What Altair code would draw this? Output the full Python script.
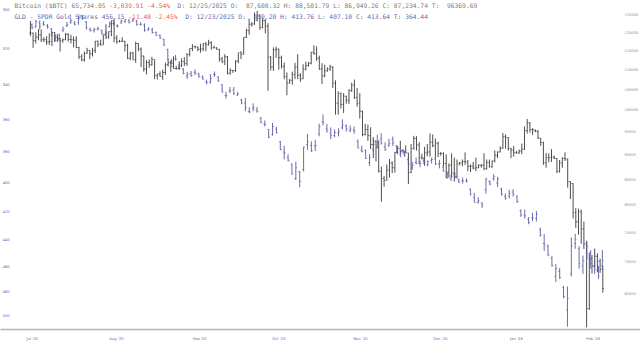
import altair as alt
import pandas as pd

# ---------------- Bitcoin daily bars (open, high, low, close) ----------------
btc_jul = [  # Jul 14 - Jul 31 2025
    (119800,123200,118900,119800),(119800,119900,115700,117700),(117700,120000,116900,118700),
    (118700,120900,117800,119300),(119300,120800,117300,117900),(117900,118600,117300,117900),
    (117900,118900,116500,117300),(117300,119700,116500,117400),(117400,120200,116200,119900),
    (119900,120100,117300,118600),(118600,119500,117400,118300),(118300,118500,114700,117600),
    (117600,118300,117100,117900),(117900,119800,117800,119400),(119400,119800,117400,118000),
    (118000,119300,116900,117900),(117900,118800,115800,117800),(117800,118900,115600,115800),
]
btc_aug = [
    (115800,116000,112700,113300),(113300,114000,112100,112500),(112500,114700,112000,114200),
    (114200,115700,114100,115000),(115000,115100,112700,114100),(114100,115700,113400,115000),
    (115000,117600,114300,117500),(117500,117700,115900,116700),(116700,117900,116300,116500),
    (116500,119300,116500,119300),(119300,122300,118100,118700),(118700,120300,118200,120200),
    (120200,123400,118900,123300),(123300,123900,117200,118400),(118400,119200,116800,117400),
    (117400,117900,117200,117500),(117500,118600,117300,117500),(117500,117600,114700,116300),
    (116300,116800,112700,112900),(112900,114600,112400,114300),(114300,114600,112400,112500),
    (112500,117400,111700,116900),(116900,117000,114800,115400),(115400,115800,110600,113500),
    (113500,113600,109400,110100),(110100,112400,108700,111800),(111800,112600,110400,111200),
    (111200,113300,110900,112600),(112600,112600,107500,108400),(108400,108900,107400,108800),
    (108800,109500,108100,108200),
]
btc_sep = [
    (108200,109900,107300,109200),(109200,111700,108600,111200),(111200,112600,110700,111700),
    (111700,112200,109400,110700),(110700,113400,110200,110200),(110200,110900,109900,110200),
    (110200,111300,110000,111100),(111100,112900,110600,112000),(112000,113200,110900,111500),
    (111500,114300,110900,113900),(113900,115500,113400,115500),(115500,116700,114800,116100),
    (116100,116300,115500,115900),(115900,116100,114800,115300),(115300,116800,114400,115400),
    (115400,117000,114800,116800),(116800,117300,114800,116500),(116500,117900,116300,117100),
    (117100,117500,115200,115700),(115700,116300,115600,115700),(115700,115900,115200,115300),
    (115300,115400,112000,112700),(112700,113300,111600,112000),(112000,114000,111100,113300),
    (113300,113500,108700,109000),(109000,110300,108600,109700),(109700,109800,109100,109700),
    (109700,112400,109300,112100),(112100,114400,111600,114400),(114400,114800,112700,114000),
]
btc_oct = [
    (114000,118600,113900,118600),(118600,121000,118400,120500),(120500,123900,119300,122300),
    (122300,122900,121600,122400),(122400,125700,122100,123500),(123500,126200,123100,124700),
    (124700,125100,120700,121400),(121400,124200,121100,123300),(123300,123800,119700,121700),
    (121700,122600,104600,113200),(113200,113500,109700,110600),(110600,115800,109600,115200),
    (115200,116000,113000,115300),(115300,115500,109900,113100),(113100,113600,110200,110800),
    (110800,111800,107500,108200),(108200,109200,103500,106500),(106500,107500,106400,107200),
    (107200,109400,106100,108700),(108700,111700,107500,110600),(110600,114000,107500,108500),
    (108500,109000,106800,107600),(107600,111300,107500,110100),(110100,112000,109700,111000),
    (111000,111900,110700,111600),(111600,114600,111300,114500),(114500,116400,113900,114100),
    (114100,116100,112200,112900),(112900,113600,109900,110100),(110100,111600,106300,108300),
    (108300,111200,108000,109600),
]
btc_nov = [
    (109600,110500,109400,110100),(110100,111200,109600,110600),(110600,110800,105300,106500),
    (106500,107200,98900,101600),(101600,104500,98900,103900),(103900,104200,100300,101300),
    (101300,104000,99300,103300),(103300,103400,101500,102300),(102300,105000,101400,104700),
    (104700,106600,104300,106000),(106000,107400,102600,103000),(103000,105300,100800,101600),
    (101600,104000,98000,99700),(99700,99800,94000,94400),(94400,96800,94200,95500),
    (95500,96600,93000,94200),(94200,96000,91200,92200),(92200,93800,89300,92900),
    (92900,93100,88600,91500),(91500,93100,86300,86600),(86600,87500,80600,85100),
    (85100,85600,83500,84700),(84700,88000,84700,86800),(86800,89100,85300,88300),
    (88300,88600,86200,87300),(87300,90600,86300,90500),(90500,91900,90100,91300),
    (91300,93000,90200,90900),(90900,91200,90300,90800),(90800,92000,90300,90400),
]
btc_dec = [
    (90400,90400,84000,86300),(86300,92300,86200,91300),(91300,94100,91100,93500),
    (93500,94000,90900,92100),(92100,92700,88100,89400),(89400,90200,89000,89300),
    (89300,91700,87700,90400),(90400,92300,89700,90600),(90600,94600,89600,92700),
    (92700,94400,91600,92000),(92000,93500,89300,92500),(92500,92800,89500,90300),
    (90300,90600,89800,90300),(90300,90500,87600,88200),(88200,90100,85200,86400),
    (86400,88200,85300,87800),(87800,90300,85400,86200),(86200,89400,84500,85500),
    (85500,89000,85100,88100),(88100,88500,87800,88300),(88300,89000,87600,88600),
    (88600,90500,87900,88500),(88500,88900,86600,87600),(87600,88000,86400,87600),
    (87608.32,88501.79,86949.26,87234.74),(87200,89400,86600,87300),(87300,88000,87200,87800),
    (87800,88000,87300,87800),(87800,90300,86800,87100),(87100,89000,86900,88400),
    (88400,89000,87300,87500),
]
btc_jan = [
    (87500,88800,87300,88700),(88700,90900,88400,89900),(89900,90700,89300,90600),
    (90600,91800,90500,91400),(91400,94700,91300,93900),(93900,94400,91300,93700),
    (93700,93800,90900,91300),(91300,91500,89300,91000),(91000,91900,89600,90500),
    (90500,90800,90200,90400),(90400,91100,90200,90800),(90800,92400,90100,91200),
    (91200,96200,91000,95300),(95300,97900,94600,97000),(97000,97200,94800,95500),
    (95500,95800,94300,95400),(95400,95500,94900,95100),(95100,95400,93400,93600),
    (93600,93600,91900,92600),(92600,92800,87900,88300),(88300,90400,87300,89400),
    (89400,90300,88400,89400),(89400,91200,88500,89500),(89500,89800,89100,89200),
    (89200,89300,86200,86600),(86600,88900,86300,88300),(88300,89500,87300,89200),
    (89200,90500,88700,89100),(89100,89200,83300,84500),(84500,84600,81100,84100),
    (84100,84200,77500,78600),
]
btc_feb = [  # Feb 1 - Feb 11 2026
    (78600,79400,75800,76900),(76900,79300,74600,78700),(78700,79100,73000,75600),
    (75600,76900,72100,73000),(73000,73400,60000,62700),(62700,71500,62500,70500),
    (70500,71100,68100,69300),(69300,72200,69000,70900),(70900,71400,68300,70100),
    (70100,70500,68200,68774),(68774,69300,65100,65734.05),
]

# ---------------- GLD trading-day bars (open, high, low, close) ----------------
gld_jul = [  # Jul 14 - Jul 31 2025
    (307.5,309.8,306.8,309.0),(308.5,309.0,305.0,305.7),(306.5,310.0,305.3,308.2),
    (307.0,308.0,305.6,307.3),(308.0,309.5,307.2,308.5),(309.5,313.5,309.3,313.1),
    (313.5,316.0,312.5,315.8),(315.0,316.2,312.0,313.0),(310.5,311.2,308.5,309.6),
    (308.0,308.6,306.1,307.4),(306.2,307.0,304.6,305.4),(306.5,307.8,305.6,307.2),
    (306.4,307.5,302.8,304.1),(303.0,305.0,302.5,303.7),
]
gld_aug = [
    (306.0,310.0,305.6,309.1),(309.8,311.0,309.0,310.6),(310.5,311.5,309.0,309.9),
    (309.8,310.5,308.4,309.4),(310.6,312.6,309.9,311.9),(312.5,313.2,310.6,311.7),
    (308.4,308.9,305.9,307.0),(306.8,307.8,305.7,307.0),(307.9,309.0,307.3,308.1),
    (306.5,307.0,304.8,305.6),(305.8,306.5,304.5,305.0),(305.4,306.8,304.6,306.3),
    (305.6,306.0,304.1,305.0),(305.5,308.0,305.0,307.3),(307.3,307.9,306.2,307.2),
    (307.6,311.0,306.8,310.3),(310.0,310.6,308.8,309.5),(310.1,312.0,309.0,311.5),
    (311.5,313.4,311.0,313.0),(313.1,314.9,312.5,314.3),(315.0,318.6,314.8,318.1),
]
gld_sep = [
    (320.5,326.0,320.0,325.6),(326.5,328.6,325.5,327.9),(325.5,326.5,323.4,325.6),
    (327.6,331.5,326.8,330.6),(331.2,334.0,330.5,333.6),(335.0,336.5,332.6,334.1),
    (333.5,335.4,332.2,334.7),(332.9,334.4,331.3,333.3),(334.0,335.8,333.1,335.4),
    (335.6,337.0,334.6,336.6),(338.0,339.7,337.0,338.7),(338.5,339.2,333.9,336.2),
    (334.0,335.5,332.4,334.1),(335.6,338.2,335.1,337.8),(339.9,344.3,339.5,344.0),
    (346.0,347.8,344.0,346.2),(343.5,344.6,341.2,343.2),(342.8,345.7,341.2,344.9),
    (345.8,346.4,343.9,345.1),(348.5,351.2,348.0,350.3),(350.5,355.2,347.5,353.1),
]
gld_oct = [
    (355.3,356.4,352.9,355.7),(353.5,355.3,350.6,353.3),(354.5,356.1,352.7,355.5),
    (359.3,362.4,358.7,361.9),(363.3,364.4,360.8,363.1),(366.3,371.6,365.9,371.1),
    (369.4,370.0,362.2,364.4),(366.0,368.7,364.6,368.0),(374.0,379.1,373.3,378.7),
    (380.3,385.0,376.3,381.1),(383.5,386.3,381.8,385.5),(388.5,394.9,387.5,394.6),
    (397.5,398.5,386.5,390.4),(393.0,403.3,392.5,399.5),(391.5,392.9,376.8,377.2),
    (375.5,378.9,368.9,373.9),(376.2,380.3,373.6,379.5),(376.5,379.6,372.7,376.0),
    (369.0,370.4,362.7,364.4),(361.5,363.8,357.1,362.2),(365.5,368.2,362.8,366.7),
    (368.5,372.2,365.0,369.8),(370.1,371.0,366.2,368.1),
]
gld_nov = [
    (368.5,370.5,365.5,367.8),(365.2,366.2,360.1,363.6),(364.0,367.6,363.1,365.7),
    (366.8,367.9,363.8,366.0),(366.5,368.8,364.4,367.0),(373.5,378.0,372.4,377.7),
    (379.2,380.5,376.3,380.0),(379.3,384.7,378.7,384.4),(387.0,389.2,381.6,384.0),
    (378.5,380.4,371.8,375.4),(376.0,377.8,369.5,374.3),(372.0,375.6,368.6,374.7),
    (377.0,379.5,374.2,378.7),(376.0,377.1,372.0,374.8),(372.3,376.5,370.5,374.5),
    (376.5,381.0,376.0,380.3),(382.0,383.5,379.0,380.0),(381.5,383.2,379.8,382.4),
    (385.0,388.5,384.6,388.0),
]
gld_dec = [
    (390.5,391.8,386.6,388.6),(387.0,388.2,383.8,387.4),(387.6,390.0,385.8,387.7),
    (386.0,388.0,383.9,386.4),(388.2,389.5,385.6,386.4),(385.5,387.7,383.8,385.0),
    (384.7,388.6,384.2,388.1),(387.8,390.8,385.3,387.7),(390.0,393.0,389.3,392.6),
    (396.5,397.8,393.0,394.8),(397.5,399.2,395.0,396.3),(395.0,397.4,393.4,396.7),
    (398.5,400.5,397.5,399.9),(399.0,400.9,396.8,399.0),(398.7,400.1,397.4,399.3),
    (404.5,408.9,404.3,408.3),(410.20,413.76,407.10,413.64),(413.5,414.5,410.2,412.5),
    (414.0,417.5,413.6,415.5),(405.0,407.7,397.0,397.8),(399.5,402.0,398.7,401.1),
    (397.5,399.0,394.6,396.3),
]
gld_jan = [
    (400.5,403.2,396.4,397.7),(404.5,409.0,403.7,408.1),(409.5,411.8,407.5,411.0),
    (409.3,410.9,405.1,407.6),(406.5,409.7,404.6,408.0),(410.0,414.0,408.6,413.0),
    (419.5,423.8,418.5,422.5),(422.0,425.0,418.6,423.0),(425.5,429.0,423.9,427.8),
    (424.5,426.9,420.8,424.5),(425.0,427.1,419.6,422.0),(433.0,438.0,431.5,437.0),
    (443.0,448.5,436.0,443.5),(445.0,452.5,443.8,451.6),(454.0,460.5,452.5,459.5),
    (468.0,472.5,458.5,462.0),(464.0,470.0,461.5,469.0),(477.0,485.5,475.5,484.0),
    (495.0,509.0,476.0,485.5),(466.0,468.0,438.5,444.9),
]
gld_feb = [  # Feb 2 - Feb 11 2026
    (443.0,447.0,436.0,440.0),(447.0,462.0,445.0,458.0),(460.0,466.0,452.0,456.0),
    (450.0,455.0,441.0,445.0),(450.0,462.0,448.0,458.0),(460.0,466.0,455.0,463.0),
    (464.0,470.0,460.0,467.63),(460.0,461.0,448.0,456.15),
]
gld_holidays = ["2025-09-01", "2025-11-27", "2025-12-25", "2026-01-01", "2026-01-19"]

btc_ticks = [65000, 70000, 75000, 80000, 85000, 90000, 95000, 100000,
             105000, 110000, 115000, 120000, 125000]
gld_ticks = [300, 320, 340, 360, 380, 400, 420, 440, 460, 480, 500]
month_ticks = [
    alt.DateTime(year=2025, month=7, date=14, hours=11, minutes=30),
    alt.DateTime(year=2025, month=8, date=14, hours=17),
    alt.DateTime(year=2025, month=9, date=14, hours=11),
    alt.DateTime(year=2025, month=10, date=13, hours=19, minutes=30),
    alt.DateTime(year=2025, month=11, date=13, hours=2),
    alt.DateTime(year=2025, month=12, date=12, hours=17),
    alt.DateTime(year=2026, month=1, date=9, hours=20),
    alt.DateTime(year=2026, month=2, date=7, hours=6),
]

GRAY = "#7a7a7a"
RED = "#ec5a4c"
NAVY = "#6767ad"
title1 = [("Bitcoin ($BTC) 65,734.05 ", GRAY), ("-3,039.91 -4.54%", RED),
          ("  D: 12/25/2025 O:  87,608.32 H: 88,501.79 L: 86,949.26 C: 87,234.74 T:  96369.69", GRAY)]
title2 = [("GLD - SPDR Gold Shares 456.15 ", NAVY), ("-11.48 -2.45%", RED),
          ("  D: 12/23/2025 O:  410.20 H: 413.76 L: 407.10 C: 413.64 T: 364.44", NAVY)]

# ---------------- tables ----------------
cols = ["open", "high", "low", "close"]
btc_rows = btc_jul + btc_aug + btc_sep + btc_oct + btc_nov + btc_dec + btc_jan + btc_feb
btc = pd.DataFrame(btc_rows, columns=cols)
btc["date"] = pd.date_range("2025-07-14", periods=len(btc_rows), freq="D")

gld_rows = gld_jul + gld_aug + gld_sep + gld_oct + gld_nov + gld_dec + gld_jan + gld_feb
gld_days = [d for d in pd.bdate_range("2025-07-14", "2026-02-11")
            if d.strftime("%Y-%m-%d") not in gld_holidays]
gld = pd.DataFrame(gld_rows, columns=cols)
gld["date"] = gld_days
gld["slot"] = list(range(len(gld_rows)))

BTC_COLOR = "#3a3a3a"
GLD_COLOR = "#5a5aa3"
AX_FONT = "DejaVu Sans"

btc_x_scale = alt.Scale(domain=[alt.DateTime(year=2025, month=7, date=2, hours=17, minutes=47),
                                alt.DateTime(year=2026, month=2, date=24, hours=18, minutes=40)])
btc_x_axis = alt.Axis(values=month_ticks, format="%b '%y", title=None, grid=False, ticks=False,
                      tickSize=0, domain=True, domainColor="#b4b4b4", domainWidth=1.5,
                      labelColor="#6a6aae", labelFont=AX_FONT, labelFontSize=3.8,
                      labelPadding=7, labelFlush=False, labelOverlap=False)
btc_y_scale = alt.Scale(type="log", domain=[59770, 129460], nice=False, zero=False)
btc_y_axis = alt.Axis(orient="right", values=btc_ticks, format="d", title=None, grid=False,
                      ticks=False, domain=False, offset=-17, labelPadding=1, labelAlign="left",
                      labelColor="#8c8c8c", labelFont=AX_FONT, labelFontSize=3.6,
                      labelOverlap=False, labelFlush=False)

gld_x_scale = alt.Scale(domain=[-8.2474, 156.701], nice=False, zero=False)
gld_y_scale = alt.Scale(type="log", domain=[295.04, 511.0], reverse=True, nice=False, zero=False)
gld_y_axis = alt.Axis(orient="left", values=gld_ticks, format="d", title=None, grid=False,
                      ticks=False, domain=False, offset=-11, labelPadding=2, labelAlign="right",
                      labelColor="#5c5cab", labelFont=AX_FONT, labelFontSize=3.6,
                      labelOverlap=False, labelFlush=False)


def bx():
    return alt.X("date:T", scale=btc_x_scale, axis=btc_x_axis)


def by(field):
    return alt.Y(f"{field}:Q", scale=btc_y_scale, axis=btc_y_axis)


def gx():
    return alt.X("slot:Q", scale=gld_x_scale, axis=None)


def gy(field):
    return alt.Y(f"{field}:Q", scale=gld_y_scale, axis=gld_y_axis)


btc_base = alt.Chart(btc)
btc_layer = alt.layer(
    btc_base.mark_rule(color=BTC_COLOR, strokeWidth=0.9).encode(x=bx(), y=by("low"), y2="high"),
    btc_base.mark_tick(orient="horizontal", size=1.2, thickness=0.9, xOffset=-0.6,
                       color=BTC_COLOR).encode(x=bx(), y=by("open")),
    btc_base.mark_tick(orient="horizontal", size=1.2, thickness=0.9, xOffset=0.6,
                       color=BTC_COLOR).encode(x=bx(), y=by("close")),
)

gld_base = alt.Chart(gld)
gld_layer = alt.layer(
    gld_base.mark_rule(color=GLD_COLOR, strokeWidth=0.9).encode(x=gx(), y=gy("low"), y2="high"),
    gld_base.mark_tick(orient="horizontal", size=1.4, thickness=0.9, xOffset=-0.7,
                       color=GLD_COLOR).encode(x=gx(), y=gy("open")),
    gld_base.mark_tick(orient="horizontal", size=1.4, thickness=0.9, xOffset=0.7,
                       color=GLD_COLOR).encode(x=gx(), y=gy("close")),
)

# ---------------- header text: monospace words placed on a character grid ----------------
FS = 6.3
CW = 0.6021 * FS
X0 = 14.5
dummy = pd.DataFrame({"k": [0]})


def words(parts, y):
    out = []
    pos = 0
    for txt, col in parts:
        i = 0
        while i < len(txt):
            if txt[i] == " ":
                i += 1
                continue
            j = i
            while j < len(txt) and txt[j] != " ":
                j += 1
            out.append(
                alt.Chart(dummy).mark_text(align="left", baseline="middle",
                                           font="DejaVu Sans Mono", fontSize=FS, color=col)
                .encode(x=alt.value(X0 + (pos + i) * CW), y=alt.value(y),
                        text=alt.value(txt[i:j]))
            )
            i = j
        pos += len(txt)
    return out


texts = words(title1, 6.2) + words(title2, 17.2)

chart = (
    alt.layer(btc_layer, gld_layer, *texts)
    .resolve_scale(x="independent", y="independent")
    .properties(width=640, height=329, autosize=alt.AutoSizeParams(type="none"),
                padding={"left": 0, "top": 0, "right": 0, "bottom": 17},
                background="white")
    .configure_view(stroke=None)
)

chart.save("out.html", embed_options={"renderer": "svg", "actions": False})
